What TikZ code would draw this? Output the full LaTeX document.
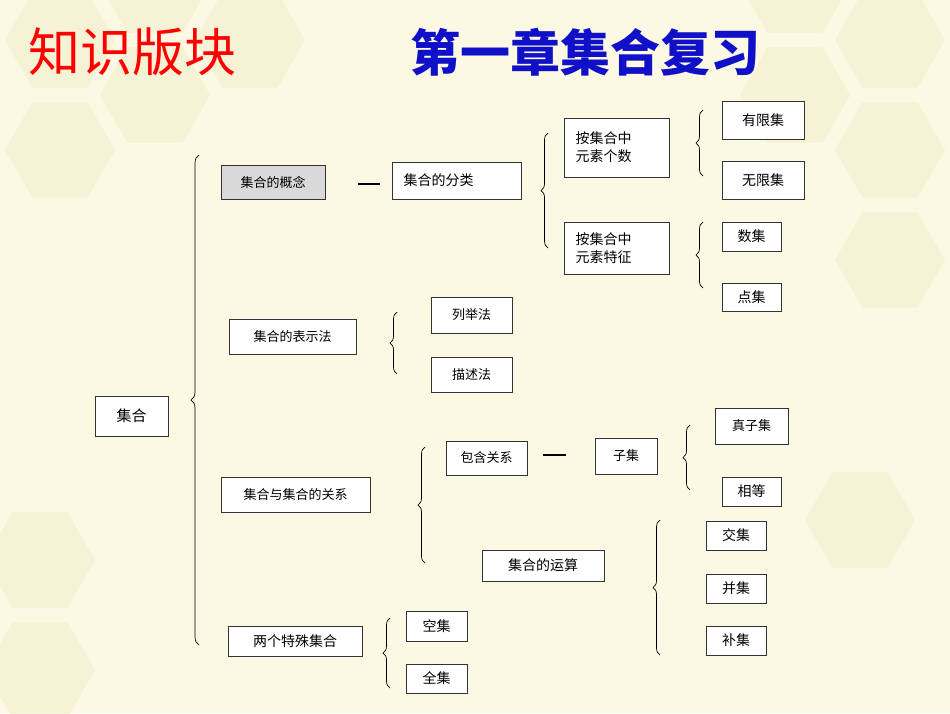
\documentclass[tikz,border=0pt]{standalone}
\usepackage{fontspec}
\setmainfont{Noto Sans CJK SC}
\usetikzlibrary{decorations.pathreplacing,shapes.geometric}
\definecolor{bg}{HTML}{FBF8E4}
\definecolor{hex}{HTML}{F3EECB}
\definecolor{ttl}{HTML}{1010C8}
\tikzset{
 bx/.style={draw=black!80,line width=0.8pt,fill=white,inner sep=0pt,font=\fontsize{13}{16}\selectfont},
 br/.style={decorate,decoration={brace,amplitude=7pt,mirror},line width=0.7pt},
 hx/.style={regular polygon,regular polygon sides=6,minimum size=110pt,fill=hex,opacity=0.6,inner sep=0pt}
}
\newcommand{\bxat}[6][]{\node[bx,#1,minimum width=#4-#2,minimum height=#5-#3] (#6) at ({(#2+#4)/2},{(#3+#5)/2}) {};}
\begin{document}
\begin{tikzpicture}[x=1pt,y=-1pt]
\fill[bg] (0,0) rectangle (950,713);
\useasboundingbox (0,0) rectangle (950,713);
\foreach \p in {(60,40),(155,95),(60,150),(155,-15),(250,40),(890,40),(795,95),(890,150),(795,-15),(890,260),(860,520),(40,560),(40,670)}
  \node[hx] at \p {};
% titles
\node[text=red,font=\fontsize{52}{56}\selectfont,anchor=west,inner sep=0pt] (t1) at (28,52) {知识版块};
\node[text=ttl,font=\bfseries\fontsize{50}{56}\selectfont,anchor=west,inner sep=0pt] (t2) at (410,52) {第一章集合复习};
% boxes
\bxat[fill=black!15]{221}{165}{325}{199}{gn}
\node[font=\fontsize{13}{16}\selectfont] at (gn) {集合的概念};
\bxat{392}{162}{521}{199}{fl}
\node[font=\fontsize{14}{16}\selectfont,anchor=west] at (400,180) {集合的分类};
\bxat{564}{118}{669}{177}{gs}
\node[font=\fontsize{14}{18}\selectfont,align=left,anchor=west] at (572,147) {按集合中\\元素个数};
\bxat{564}{222}{669}{274}{tz}
\node[font=\fontsize{14}{18}\selectfont,align=left,anchor=west] at (572,248) {按集合中\\元素特征};
\bxat{722}{101}{804}{139}{yx}\node[font=\fontsize{14}{16}\selectfont] at (yx) {有限集};
\bxat{722}{161}{804}{199}{wx}\node[font=\fontsize{14}{16}\selectfont] at (wx) {无限集};
\bxat{722}{222}{781}{251}{sj}\node[font=\fontsize{14}{16}\selectfont] at (sj) {数集};
\bxat{722}{283}{781}{311}{dj}\node[font=\fontsize{14}{16}\selectfont] at (dj) {点集};
\bxat{229}{319}{356}{354}{bs}\node[font=\fontsize{13}{16}\selectfont] at (bs) {集合的表示法};
\bxat{431}{297}{512}{333}{lj}\node[font=\fontsize{13}{16}\selectfont] at (lj) {列举法};
\bxat{431}{357}{512}{392}{ms}\node[font=\fontsize{13}{16}\selectfont] at (ms) {描述法};
\bxat{95}{396}{168}{436}{jh}\node[font=\fontsize{15}{16}\selectfont] at (jh) {集合};
\bxat{221}{477}{370}{512}{gx}\node[font=\fontsize{13}{16}\selectfont] at (gx) {集合与集合的关系};
\bxat{446}{441}{527}{475}{bh}\node[font=\fontsize{13}{16}\selectfont] at (bh) {包含关系};
\bxat{595}{438}{657}{474}{zj}\node[font=\fontsize{13}{16}\selectfont] at (zj) {子集};
\bxat{715}{408}{788}{444}{zz}\node[font=\fontsize{13}{16}\selectfont] at (zz) {真子集};
\bxat{722}{477}{781}{506}{xd}\node[font=\fontsize{14}{16}\selectfont] at (xd) {相等};
\bxat{482}{550}{604}{581}{ys}\node[font=\fontsize{14}{16}\selectfont] at (ys) {集合的运算};
\bxat{706}{521}{766}{550}{jj}\node[font=\fontsize{14}{16}\selectfont] at (jj) {交集};
\bxat{706}{574}{766}{603}{bj}\node[font=\fontsize{14}{16}\selectfont] at (bj) {并集};
\bxat{706}{626}{766}{655}{bu}\node[font=\fontsize{14}{16}\selectfont] at (bu) {补集};
\bxat{228}{626}{362}{656}{ts}\node[font=\fontsize{14}{16}\selectfont] at (ts) {两个特殊集合};
\bxat{406}{611}{467}{641}{kj}\node[font=\fontsize{14}{16}\selectfont] at (kj) {空集};
\bxat{406}{664}{467}{693}{qj}\node[font=\fontsize{14}{16}\selectfont] at (qj) {全集};
% dashes
\draw[line width=1.5pt] (358,184) -- (380,184);
\draw[line width=1.5pt] (543,455) -- (566,455);
% braces
\draw[br,decoration={amplitude=8pt}] (199,155) -- (199,645);
\draw[br] (548,133) -- (548,248);
\draw[br] (703,110) -- (703,176);
\draw[br] (703,222) -- (703,288);
\draw[br] (397,312) -- (397,374);
\draw[br] (425,447) -- (425,563);
\draw[br] (690,425) -- (690,490);
\draw[br] (660,520) -- (660,655);
\draw[br] (390,618) -- (390,688);
\end{tikzpicture}
\end{document}
